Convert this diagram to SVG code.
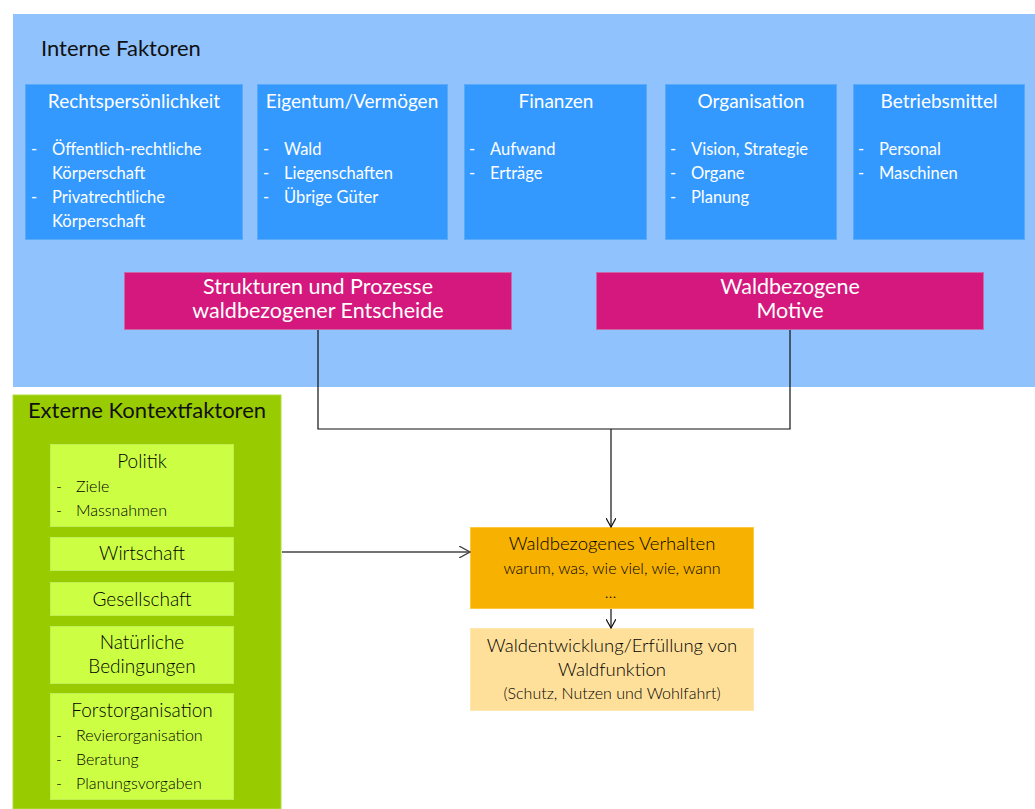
<svg xmlns="http://www.w3.org/2000/svg" width="1035" height="809" viewBox="0 0 1035 809">
<style>
text{font-family:Lato,"Liberation Sans",sans-serif}
.bbox{fill:#3399FF;stroke:#5AAAF8;stroke-width:1}
.bt{fill:#fff;font-size:19px;text-anchor:middle}
.bi{fill:#fff;font-size:16.5px}
.mag{fill:#D4187D;stroke:#C86AA8;stroke-width:1}
.mt{fill:#fff;font-size:21.5px;text-anchor:middle}
.gbox{fill:#CCFF44;stroke:#BFEF50;stroke-width:1}
.gt{fill:#000;font-size:19px;text-anchor:middle;font-weight:300}
.gi{fill:#000;font-size:16px;font-weight:300}
.ot{fill:#000;text-anchor:middle;font-weight:300}
.con{fill:none;stroke:#111;stroke-width:1.2}
</style>
<defs>
<marker id="ah" viewBox="0 0 10 10" refX="9" refY="5" markerWidth="10" markerHeight="10" markerUnits="userSpaceOnUse" orient="auto">
<path d="M0,0 L9,5 L0,10" fill="none" stroke="#111" stroke-width="1.2"/>
</marker>
<marker id="ah2" viewBox="0 0 12 12" refX="11" refY="6" markerWidth="12" markerHeight="12" markerUnits="userSpaceOnUse" orient="auto">
<path d="M0,0 L11,6 L0,12" fill="none" stroke="#444" stroke-width="1.4"/>
</marker>
</defs>
<g id="interne">
<rect x="13" y="14" width="1022" height="373" fill="#90C3FD"/>
<text x="41" y="56" font-size="22" fill="#111">Interne Faktoren</text>
</g>
<g id="rechtspersoenlichkeit">
<rect class="bbox" x="25.5" y="84.5" width="217" height="155"/>
<text class="bt" x="134" y="108">Rechtspersönlichkeit</text>
<text class="bi" x="31" y="155">-</text><text class="bi" x="52" y="155">Öffentlich-rechtliche</text>
<text class="bi" x="52" y="179">Körperschaft</text>
<text class="bi" x="31" y="203">-</text><text class="bi" x="52" y="203">Privatrechtliche</text>
<text class="bi" x="52" y="227">Körperschaft</text>
</g>
<g id="eigentum">
<rect class="bbox" x="257.5" y="84.5" width="190" height="155"/>
<text class="bt" x="352" y="108">Eigentum/Vermögen</text>
<text class="bi" x="263" y="155">-</text><text class="bi" x="284" y="155">Wald</text>
<text class="bi" x="263" y="179">-</text><text class="bi" x="284" y="179">Liegenschaften</text>
<text class="bi" x="263" y="203">-</text><text class="bi" x="284" y="203">Übrige Güter</text>
</g>
<g id="finanzen">
<rect class="bbox" x="464.5" y="84.5" width="182" height="155"/>
<text class="bt" x="556" y="108">Finanzen</text>
<text class="bi" x="469" y="155">-</text><text class="bi" x="490" y="155">Aufwand</text>
<text class="bi" x="469" y="179">-</text><text class="bi" x="490" y="179">Erträge</text>
</g>
<g id="organisation">
<rect class="bbox" x="665.5" y="84.5" width="171" height="155"/>
<text class="bt" x="751" y="108">Organisation</text>
<text class="bi" x="670" y="155">-</text><text class="bi" x="691" y="155">Vision, Strategie</text>
<text class="bi" x="670" y="179">-</text><text class="bi" x="691" y="179">Organe</text>
<text class="bi" x="670" y="203">-</text><text class="bi" x="691" y="203">Planung</text>
</g>
<g id="betriebsmittel">
<rect class="bbox" x="853.5" y="84.5" width="171" height="155"/>
<text class="bt" x="939" y="108">Betriebsmittel</text>
<text class="bi" x="858" y="155">-</text><text class="bi" x="879" y="155">Personal</text>
<text class="bi" x="858" y="179">-</text><text class="bi" x="879" y="179">Maschinen</text>
</g>
<g id="strukturen">
<rect class="mag" x="124.5" y="272.5" width="387" height="57"/>
<text class="mt" x="318" y="294">Strukturen und Prozesse</text>
<text class="mt" x="318" y="318">waldbezogener Entscheide</text>
</g>
<g id="motive">
<rect class="mag" x="596.5" y="272.5" width="387" height="57"/>
<text class="mt" x="790" y="294">Waldbezogene</text>
<text class="mt" x="790" y="318">Motive</text>
</g>
<g id="externe">
<rect x="13" y="395" width="268" height="414" fill="#99CC00" stroke="#B0DC40" stroke-width="1"/>
<text x="147" y="418" font-size="22" fill="#111" text-anchor="middle">Externe Kontextfaktoren</text>
</g>
<g id="politik">
<rect class="gbox" x="50.5" y="444.5" width="183" height="82"/>
<text class="gt" x="142" y="468">Politik</text>
<text class="gi" x="56" y="492">-</text><text class="gi" x="76" y="492">Ziele</text>
<text class="gi" x="56" y="516">-</text><text class="gi" x="76" y="516">Massnahmen</text>
</g>
<g id="wirtschaft">
<rect class="gbox" x="50.5" y="537.5" width="183" height="33"/>
<text class="gt" x="142" y="560">Wirtschaft</text>
</g>
<g id="gesellschaft">
<rect class="gbox" x="50.5" y="582.5" width="183" height="33"/>
<text class="gt" x="142" y="606">Gesellschaft</text>
</g>
<g id="natuerliche">
<rect class="gbox" x="50.5" y="626.5" width="183" height="57"/>
<text class="gt" x="142" y="649">Natürliche</text>
<text class="gt" x="142" y="673">Bedingungen</text>
</g>
<g id="forstorganisation">
<rect class="gbox" x="50.5" y="693.5" width="183" height="106"/>
<text class="gt" x="142" y="717">Forstorganisation</text>
<text class="gi" x="56" y="741">-</text><text class="gi" x="76" y="741">Revierorganisation</text>
<text class="gi" x="56" y="765">-</text><text class="gi" x="76" y="765">Beratung</text>
<text class="gi" x="56" y="789">-</text><text class="gi" x="76" y="789">Planungsvorgaben</text>
</g>
<g id="verhalten">
<rect x="470.5" y="527.5" width="283" height="81" fill="#F7B100" stroke="#FBC840" stroke-width="1"/>
<text class="ot" x="612" y="550" font-size="18.5">Waldbezogenes Verhalten</text>
<text class="ot" x="612" y="574" font-size="16">warum, was, wie viel, wie, wann</text>
<text class="ot" x="612" y="598" font-size="16" letter-spacing="3">…</text>
</g>
<g id="waldentwicklung">
<rect x="470.5" y="628.5" width="283" height="82" fill="#FFE09A" stroke="#FFE7B0" stroke-width="1"/>
<text class="ot" x="612" y="652" font-size="18.5">Waldentwicklung/Erfüllung von</text>
<text class="ot" x="612" y="676" font-size="18.5">Waldfunktion</text>
<text class="ot" x="612" y="699" font-size="16">(Schutz, Nutzen und Wohlfahrt)</text>
</g>
<g id="connectors">
<polyline class="con" points="318,330 318,429 790,429 790,330"/>
<line class="con" x1="611" y1="429" x2="611" y2="527" marker-end="url(#ah)"/>
<line class="con" x1="611" y1="609" x2="611" y2="628" marker-end="url(#ah)"/>
<line x1="282" y1="552" x2="470" y2="552" stroke="#444" stroke-width="1.4" marker-end="url(#ah2)"/>
</g>
</svg>
